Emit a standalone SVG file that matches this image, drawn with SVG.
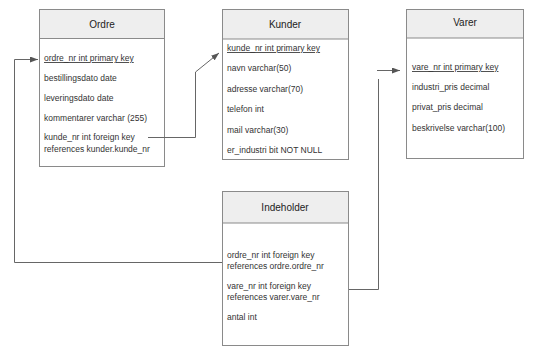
<svg xmlns="http://www.w3.org/2000/svg" width="540" height="355" viewBox="0 0 540 355">
<style>
.box{fill:#fff;stroke:#8a8a8a;stroke-width:1}
.hdr{fill:#eeeeee;stroke:#8a8a8a;stroke-width:1}
.title{font-family:"Liberation Sans",Arial,sans-serif;font-size:10px;fill:#222;text-anchor:middle}
.row{font-family:"Liberation Sans",Arial,sans-serif;font-size:8.5px;fill:#333}
.pk{text-decoration:underline}
.conn{fill:none;stroke:#666;stroke-width:1}
</style>
<defs>
<marker id="arr" viewBox="0 0 8 6" refX="8" refY="3" markerWidth="8" markerHeight="6" markerUnits="userSpaceOnUse" orient="auto">
<path d="M0,0 L8,3 L0,6 Z" fill="#555"/>
</marker>
</defs>
<rect width="540" height="355" fill="#fff"/>
<g id="ordre">
<rect class="box" x="39.5" y="9.5" width="125" height="157"/>
<rect class="hdr" x="39.5" y="9.5" width="125" height="29"/>
<text class="title" x="102" y="28">Ordre</text>
<text class="row pk" x="44" y="61">ordre_nr int primary key</text>
<text class="row" x="44" y="81">bestillingsdato date</text>
<text class="row" x="44" y="101">leveringsdato date</text>
<text class="row" x="44" y="121">kommentarer varchar (255)</text>
<text class="row" x="44" y="140">kunde_nr int foreign key</text>
<text class="row" x="44" y="152">references kunder.kunde_nr</text>
</g>
<g id="kunder">
<rect class="box" x="222.5" y="9.5" width="126" height="150"/>
<rect class="hdr" x="222.5" y="9.5" width="126" height="29.5"/>
<text class="title" x="285" y="28">Kunder</text>
<text class="row pk" x="227" y="51">kunde_nr int primary key</text>
<text class="row" x="227" y="71">navn varchar(50)</text>
<text class="row" x="227" y="92">adresse varchar(70)</text>
<text class="row" x="227" y="112">telefon int</text>
<text class="row" x="227" y="133">mail varchar(30)</text>
<text class="row" x="227" y="153">er_industri bit NOT NULL</text>
</g>
<g id="varer">
<rect class="box" x="406.5" y="9.5" width="117" height="149"/>
<rect class="hdr" x="406.5" y="9.5" width="117" height="28.5"/>
<text class="title" x="465" y="26">Varer</text>
<text class="row pk" x="412" y="70">vare_nr int primary key</text>
<text class="row" x="412" y="90">industri_pris decimal</text>
<text class="row" x="412" y="110">privat_pris decimal</text>
<text class="row" x="412" y="131">beskrivelse varchar(100)</text>
</g>
<g id="indeholder">
<rect class="box" x="222.5" y="191.5" width="126" height="154"/>
<rect class="hdr" x="222.5" y="191.5" width="126" height="31.5"/>
<text class="title" x="285" y="211">Indeholder</text>
<text class="row" x="227" y="258">ordre_nr int foreign key</text>
<text class="row" x="227" y="269">references ordre.ordre_nr</text>
<text class="row" x="227" y="289">vare_nr int foreign key</text>
<text class="row" x="227" y="300">references varer.vare_nr</text>
<text class="row" x="227" y="320">antal int</text>
</g>
<g id="connectors">
<path class="conn" d="M222,262.5 H14.5 V59.5 H38" marker-end="url(#arr)"/>
<path class="conn" d="M148,137.5 H195.5 V72 L219,53" marker-end="url(#arr)"/>
<path class="conn" d="M349,289.5 H378.5 V79"/>
<path class="conn" d="M377,70.5 H400" marker-end="url(#arr)"/>
</g>
</svg>
